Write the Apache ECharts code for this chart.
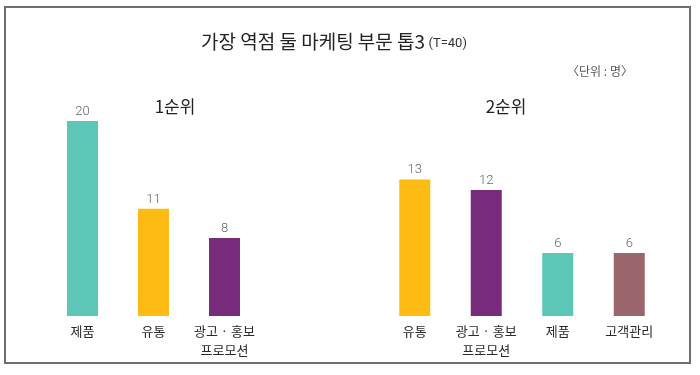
<!DOCTYPE html>
<html>
<head>
<meta charset="utf-8">
<script src="https://cdn.jsdelivr.net/npm/echarts@6/dist/echarts.min.js"></script>
<style>
  html, body { margin: 0; padding: 0; background: #fff; }
  #chart { width: 700px; height: 375px; }
</style>
</head>
<body>
<div id="chart"></div>
<script>
// 1순위
const cats1 = ['제품', '유통', '광고 · 홍보\n프로모션']
const vals1 = [20, 11, 8]
const colors1 = ['#5cc6b7', '#fdbb13', '#792b7b']

// 2순위
const cats2 = ['유통', '광고 · 홍보\n프로모션', '제품', '고객관리']
const vals2 = [13, 12, 6, 6]
const colors2 = ['#fdbb13', '#792b7b', '#5cc6b7', '#9b666b']

const KR = '"Noto Sans CJK KR", sans-serif'
const NUM = 'Roboto, "Noto Sans", sans-serif'

const chart = echarts.init(document.getElementById('chart'))

const xAxisBase = {
  type: 'category',
  axisLine: { show: false },
  axisTick: { show: false },
  axisLabel: {
    color: '#2a2a2a',
    fontSize: 13,
    fontFamily: KR,
    margin: 6,
    lineHeight: 19,
    interval: 0
  }
}
const yAxisBase = {
  type: 'value',
  min: 0,
  max: 20,
  show: false,
  splitLine: { show: false }
}
const labelBase = {
  show: true,
  position: 'top',
  distance: 3,
  color: '#666',
  fontSize: 13,
  fontWeight: 300,
  fontFamily: NUM
}

const option = {
  animation: false,
  grid: [
    { left: 47, width: 213, top: 121, bottom: 59 },
    { left: 379, width: 286, top: 106, bottom: 59 }
  ],
  xAxis: [
    Object.assign({}, xAxisBase, { gridIndex: 0, data: cats1 }),
    Object.assign({}, xAxisBase, { gridIndex: 1, data: cats2 })
  ],
  yAxis: [
    Object.assign({}, yAxisBase, { gridIndex: 0 }),
    Object.assign({}, yAxisBase, { gridIndex: 1 })
  ],
  series: [
    {
      type: 'bar',
      xAxisIndex: 0,
      yAxisIndex: 0,
      barWidth: 31,
      data: vals1.map((v, i) => ({ value: v, itemStyle: { color: colors1[i] } })),
      label: labelBase
    },
    {
      type: 'bar',
      xAxisIndex: 1,
      yAxisIndex: 1,
      barWidth: 31,
      data: vals2.map((v, i) => ({ value: v, itemStyle: { color: colors2[i] } })),
      label: labelBase
    }
  ],
  graphic: [
    {
      type: 'rect',
      shape: { x: 5, y: 7, width: 685, height: 356 },
      style: { fill: 'none', stroke: '#6e6e6e', lineWidth: 2 },
      silent: true
    },
    {
      type: 'text',
      x: 201,
      y: 42,
      style: {
        text: '{a|가장 역점 둘 마케팅 부문 톱3} {b|(T=40)}',
        verticalAlign: 'middle',
        rich: {
          a: { fontSize: 19, fontFamily: KR, fill: '#222', lineHeight: 24, verticalAlign: 'middle' },
          b: { fontSize: 13, fontFamily: NUM, fill: '#333', lineHeight: 24, verticalAlign: 'middle', padding: [3, 0, 0, 0] }
        }
      }
    },
    {
      type: 'text',
      x: 600,
      y: 71,
      style: {
        text: '〈단위 : 명〉',
        fontSize: 12,
        fontFamily: KR,
        fill: '#555',
        align: 'center',
        verticalAlign: 'middle'
      }
    },
    {
      type: 'text',
      x: 175,
      y: 107,
      style: { text: '1순위', fontSize: 17, fontFamily: KR, fill: '#222', align: 'center', verticalAlign: 'middle' }
    },
    {
      type: 'text',
      x: 506,
      y: 107,
      style: { text: '2순위', fontSize: 17, fontFamily: KR, fill: '#222', align: 'center', verticalAlign: 'middle' }
    }
  ]
}

chart.setOption(option)
</script>
</body>
</html>
